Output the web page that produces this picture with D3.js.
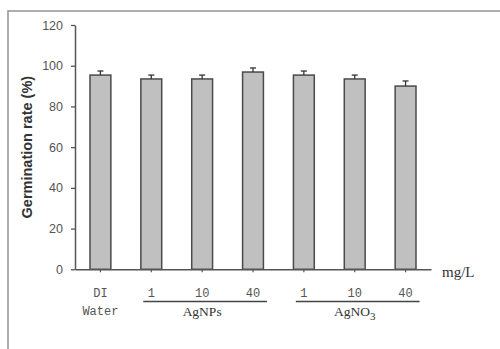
<!DOCTYPE html>
<html>
<head>
<meta charset="utf-8">
<script src="https://cdn.jsdelivr.net/npm/d3@7"></script>
<style>
  html, body { margin: 0; padding: 0; background: #fff; }
  svg { display: block; }
</style>
</head>
<body>
<svg id="chart" width="500" height="349"></svg>
<script>
// Germination rate per treatment (mean with upward SD bar)
const categories = ["DI Water", "AgNPs 1", "AgNPs 10", "AgNPs 40", "AgNO3 1", "AgNO3 10", "AgNO3 40"];
const doseLabels = [["DI", "Water"], ["1"], ["10"], ["40"], ["1"], ["10"], ["40"]];
const rates = [95.4, 93.5, 93.5, 96.9, 95.4, 93.5, 90.0];
const errors = [2.0, 1.9, 1.9, 2.0, 2.0, 1.9, 2.5];
const groupNames = ["AgNPs", "AgNO3"];
const groupStart = ["AgNPs 1", "AgNO3 1"];
const groupEnd = ["AgNPs 40", "AgNO3 40"];
const yTicks = [0, 20, 40, 60, 80, 100, 120];

const svg = d3.select("#chart");

// outer frame (runs off the right and bottom edges)
svg.append("rect")
  .attr("x", 8).attr("y", 11)
  .attr("width", 700).attr("height", 500)
  .attr("fill", "none")
  .attr("stroke", "#9a9a9a")
  .attr("stroke-width", 1.6);

const x = d3.scaleBand()
  .domain(categories)
  .range([75, 431])
  .paddingInner(0.59)
  .paddingOuter(0.295);

const y = d3.scaleLinear()
  .domain([0, 120])
  .range([269.3, 25]);

const axisColor = "#555";

// y axis
const yAxis = svg.append("g")
  .attr("transform", "translate(75,0)")
  .call(d3.axisLeft(y).tickValues(yTicks).tickSize(4).tickSizeOuter(0).tickPadding(8));
yAxis.select(".domain").attr("stroke", axisColor).attr("stroke-width", 1.5);
yAxis.selectAll(".tick line").attr("stroke", axisColor).attr("stroke-width", 1.3);
yAxis.selectAll(".tick text")
  .attr("fill", "#555")
  .attr("font-family", "'Liberation Sans', Arial, sans-serif")
  .attr("font-size", 12.5);

// bars
svg.append("g").selectAll("rect")
  .data(categories)
  .join("rect")
  .attr("x", d => x(d))
  .attr("y", (d, i) => y(rates[i]))
  .attr("width", x.bandwidth())
  .attr("height", (d, i) => y(0) - y(rates[i]))
  .attr("fill", "#c0c0c0")
  .attr("stroke", "#4a4a4a")
  .attr("stroke-width", 1.5);

// error bars (upper half only)
const err = svg.append("g").attr("stroke", "#333").attr("stroke-width", 1.3);
categories.forEach((c, i) => {
  const cx = x(c) + x.bandwidth() / 2;
  err.append("line")
    .attr("x1", cx).attr("x2", cx)
    .attr("y1", y(rates[i])).attr("y2", y(rates[i] + errors[i]));
  err.append("line")
    .attr("x1", cx - 3).attr("x2", cx + 3)
    .attr("y1", y(rates[i] + errors[i])).attr("y2", y(rates[i] + errors[i]));
});

// x axis
const xAxis = svg.append("g")
  .attr("transform", `translate(0,${y(0)})`)
  .call(d3.axisBottom(x).tickSize(3).tickSizeOuter(0).tickFormat(""));
xAxis.select(".domain").attr("stroke", axisColor).attr("stroke-width", 1.5);
xAxis.selectAll(".tick line").attr("stroke", axisColor).attr("stroke-width", 1.2);

// dose labels under each bar
const lbl = svg.append("g")
  .attr("font-family", "'Liberation Mono', 'DejaVu Sans Mono', monospace")
  .attr("font-size", 12)
  .attr("fill", "#555")
  .attr("text-anchor", "middle");
categories.forEach((c, i) => {
  const cx = x(c) + x.bandwidth() / 2;
  doseLabels[i].forEach((t, k) => {
    lbl.append("text")
      .attr("x", cx)
      .attr("y", 297 + k * 18)
      .text(t);
  });
});

// group brackets and names
groupNames.forEach((g, i) => {
  const x0 = x(groupStart[i]) + x.bandwidth() / 2 - 8;
  const x1 = x(groupEnd[i]) + x.bandwidth() / 2 + 14;
  svg.append("line")
    .attr("x1", x0).attr("x2", x1)
    .attr("y1", 301.5).attr("y2", 301.5)
    .attr("stroke", "#444").attr("stroke-width", 1.3);
  const t = svg.append("text")
    .attr("x", (x(groupStart[i]) + x(groupEnd[i]) + x.bandwidth()) / 2)
    .attr("y", 316)
    .attr("text-anchor", "middle")
    .attr("font-family", "'Liberation Serif', 'Times New Roman', serif")
    .attr("font-size", 13.5)
    .attr("fill", "#333");
  if (g === "AgNO3") {
    t.append("tspan").text("AgNO");
    t.append("tspan").attr("dy", 4).attr("font-size", 11).text("3");
  } else {
    t.text(g);
  }
});

// unit label
svg.append("text")
  .attr("x", 442).attr("y", 277)
  .attr("font-family", "'Liberation Serif', 'Times New Roman', serif")
  .attr("font-size", 15)
  .attr("fill", "#333")
  .text("mg/L");

// y axis title
svg.append("text")
  .attr("transform", `translate(32,${(y(0) + y(120)) / 2}) rotate(-90)`)
  .attr("text-anchor", "middle")
  .attr("font-family", "'Liberation Sans', Arial, sans-serif")
  .attr("font-weight", "bold")
  .attr("font-size", 14.5)
  .attr("fill", "#333")
  .text("Germination rate (%)");
</script>
</body>
</html>
